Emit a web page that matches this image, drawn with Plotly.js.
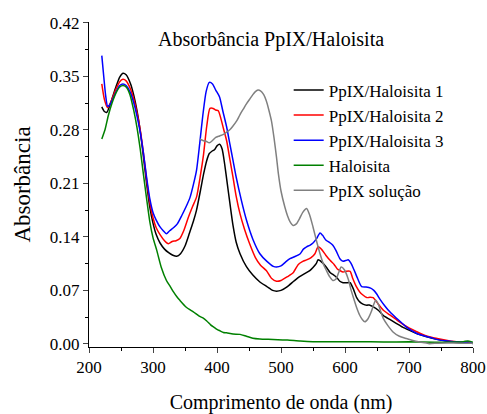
<!DOCTYPE html>
<html>
<head>
<meta charset="utf-8">
<script src="https://cdn.plot.ly/plotly-3.0.1.min.js"></script>
<style>html,body{margin:0;padding:0;background:#fff;}#chart{width:487px;height:414px;}</style>
</head>
<body>
<div id="chart"></div>
<script>
const seriesNames = ["PpIX/Haloisita 1", "PpIX/Haloisita 2", "PpIX/Haloisita 3", "Haloisita", "PpIX solução"];

const wl1 = [220,224,228,235,242,248,253,258,265,270,275,280,285,290,295,300,305,311,318,325,331,337,343,350,357,363,368,374,379,384,388,392,396,400,404,408,412,416,420,425,430,436,446,456,467,478,487,493,500,510,520,529,537,545,550,555,558,565,572,577,581,587,592,597,602,608,613,618,623,628,634,638,643,652,660,670,680,690,700,712,725,738,750,764,775,785,792,800];
const abs1 = [0.310,0.304,0.303,0.318,0.336,0.349,0.354,0.352,0.340,0.325,0.305,0.279,0.245,0.210,0.179,0.158,0.143,0.132,0.124,0.119,0.116,0.1146,0.118,0.128,0.145,0.160,0.175,0.200,0.222,0.240,0.249,0.252,0.254,0.259,0.261,0.255,0.235,0.210,0.185,0.155,0.133,0.118,0.101,0.090,0.081,0.075,0.070,0.069,0.070,0.075,0.082,0.088,0.092,0.096,0.100,0.105,0.110,0.106,0.099,0.093,0.091,0.087,0.082,0.080,0.080,0.080,0.072,0.061,0.055,0.052,0.0506,0.051,0.049,0.044,0.037,0.032,0.027,0.022,0.018,0.0135,0.010,0.007,0.005,0.003,0.002,0.0015,0.002,0.0005];

const wl2 = [220,224,229,235,242,248,253,258,265,270,275,280,285,290,295,300,305,311,318,324,330,336,342,348,355,362,368,374,379,384,389,394,398,402,406,410,415,420,425,430,436,443,451,460,468,477,485,493,500,510,519,527,534,540,547,553,558,564,570,577,583,588,592,597,602,608,612,618,623,628,634,639,644,652,660,670,680,690,700,712,725,738,750,764,775,785,792,800];
const abs2 = [0.340,0.320,0.309,0.318,0.333,0.343,0.346,0.344,0.333,0.320,0.302,0.280,0.250,0.215,0.185,0.165,0.152,0.143,0.135,0.131,0.134,0.135,0.138,0.148,0.165,0.180,0.192,0.220,0.248,0.285,0.308,0.308,0.306,0.305,0.295,0.282,0.266,0.242,0.218,0.193,0.170,0.150,0.131,0.113,0.103,0.096,0.086,0.082,0.083,0.088,0.093,0.104,0.108,0.110,0.113,0.118,0.127,0.123,0.116,0.109,0.104,0.098,0.096,0.094,0.095,0.095,0.086,0.0745,0.068,0.064,0.0606,0.061,0.0606,0.052,0.044,0.038,0.032,0.026,0.021,0.016,0.011,0.008,0.006,0.004,0.003,0.002,0.003,0.001];

const wl3 = [220,223,226,229,232,237,243,248,253,258,265,270,275,280,285,290,295,300,305,311,316,321,326,332,338,345,352,358,363,368,373,378,383,388,393,398,404,409,415,420,425,430,438,446,456,467,478,488,493,500,507,514,521,530,535,540,545,550,555,561,565,570,577,581,586,592,597,601,605,609,614,620,626,633,640,645,649,655,662,670,680,688,696,705,714,722,735,748,760,770,779,788,795,800];
const abs3 = [0.377,0.350,0.325,0.311,0.312,0.320,0.331,0.338,0.340,0.338,0.328,0.315,0.298,0.277,0.250,0.218,0.190,0.172,0.162,0.153,0.148,0.144,0.148,0.152,0.157,0.168,0.180,0.192,0.208,0.227,0.262,0.300,0.330,0.342,0.340,0.332,0.323,0.305,0.284,0.262,0.240,0.218,0.188,0.162,0.137,0.118,0.108,0.1015,0.1006,0.102,0.107,0.1115,0.114,0.118,0.124,0.127,0.129,0.132,0.137,0.145,0.142,0.136,0.132,0.129,0.122,0.1115,0.108,0.109,0.110,0.106,0.097,0.085,0.075,0.0745,0.073,0.070,0.066,0.058,0.050,0.042,0.034,0.028,0.022,0.017,0.013,0.011,0.008,0.005,0.004,0.003,0.0026,0.002,0.003,0.0004];

const wl4 = [220,225,230,236,242,248,253,258,264,270,275,280,285,290,295,300,306,313,321,327,332,337,342,352,363,368,373,378,384,390,395,400,405,410,415,425,436,446,456,467,480,495,510,530,550,580,620,660,700,740,770,785,792,797,800];
const abs4 = [0.268,0.280,0.298,0.315,0.328,0.336,0.338,0.336,0.326,0.305,0.283,0.255,0.222,0.190,0.160,0.139,0.122,0.100,0.083,0.075,0.068,0.062,0.057,0.048,0.042,0.039,0.036,0.034,0.030,0.025,0.022,0.019,0.017,0.015,0.0145,0.013,0.0125,0.010,0.0075,0.0065,0.006,0.0055,0.005,0.0038,0.003,0.0028,0.003,0.0025,0.0028,0.0022,0.0025,0.003,0.004,0.003,0.002];

const wl5 = [373,378,383,388,393,398,404,410,415,420,425,431,436,441,446,451,456,460,464,468,473,477,481,485,489,493,496,500,506,510,514,519,524,529,534,540,545,550,556,561,566,571,576,581,586,590,594,599,605,609,613,618,623,627,631,636,641,645,648,652,656,660,667,675,685,696,706,717,725,732,745,760,780,800];
const abs5 = [0.268,0.266,0.265,0.263,0.266,0.270,0.272,0.274,0.277,0.280,0.285,0.292,0.300,0.307,0.314,0.320,0.326,0.330,0.332,0.331,0.326,0.318,0.306,0.292,0.270,0.244,0.222,0.200,0.179,0.168,0.160,0.155,0.157,0.164,0.172,0.177,0.168,0.153,0.133,0.118,0.105,0.096,0.088,0.083,0.085,0.093,0.1006,0.097,0.085,0.072,0.061,0.048,0.0375,0.032,0.029,0.033,0.042,0.052,0.057,0.052,0.042,0.033,0.024,0.0157,0.010,0.007,0.0045,0.0026,0.0015,0.0004,0.001,0.0012,0.001,0.001];

const xTickVals = [200,300,400,500,600,700,800];
const yTickVals = [0.00,0.07,0.14,0.21,0.28,0.35,0.42];

const colors = ["#000000","#ff0000","#0000ff","#008000","#808080"];
const xs = [wl1,wl2,wl3,wl4,wl5];
const ys = [abs1,abs2,abs3,abs4,abs5];

const traces = seriesNames.map((n,i)=>({
  x: xs[i], y: ys[i], type:'scatter', mode:'lines', name:n,
  line:{color:colors[i], width:1.5, shape:'spline', smoothing:0.6}
}));

const FONT = '"Liberation Serif", "Times New Roman", serif';
const xr = [200,800], yr = [-0.004,0.421];

const layout = {
  width:487, height:414,
  margin:{l:89, r:14, t:22, b:67},
  paper_bgcolor:'#fff', plot_bgcolor:'#fff',
  font:{family:FONT, color:'#000', size:17},
  showlegend:true,
  legend:{x:0.52, y:0.845, xanchor:'left', yanchor:'top', bgcolor:'rgba(0,0,0,0)',
          font:{family:FONT, size:17, color:'#000'}, itemwidth:30, tracegroupgap:0},
  xaxis:{range:xr, tickvals:xTickVals, ticktext:xTickVals.map(String), ticks:'outside', ticklen:5, tickwidth:1,
         showline:true, linecolor:'#000', linewidth:1, showgrid:false, zeroline:false,
         minor:{ticks:'outside', ticklen:3, dtick:50, tick0:200, tickcolor:'#000', showgrid:false},
         tickfont:{family:FONT, size:17},
         title:{text:'Comprimento de onda (nm)', font:{family:FONT, size:20}, standoff:18}},
  yaxis:{range:yr, tickvals:yTickVals, ticktext:yTickVals.map(v=>v.toFixed(2)), ticks:'outside', ticklen:5, tickwidth:1,
         showline:true, linecolor:'#000', linewidth:1, showgrid:false, zeroline:false,
         minor:{ticks:'outside', ticklen:3, dtick:0.035, tick0:0, tickcolor:'#000', showgrid:false},
         tickfont:{family:FONT, size:17},
         title:{text:'Absorbância', font:{family:FONT, size:23}, standoff:12}},
  xaxis2:{range:xr, overlaying:'x', side:'top', anchor:'y', tickvals:xTickVals, showticklabels:false,
          ticks:'inside', ticklen:5, showline:true, linecolor:'#000', linewidth:1, showgrid:false, zeroline:false,
          minor:{ticks:'inside', ticklen:3, dtick:50, tick0:200, tickcolor:'#000', showgrid:false}},
  yaxis2:{range:yr, overlaying:'y', side:'right', anchor:'x', tickvals:yTickVals, showticklabels:false,
          ticks:'inside', ticklen:5, showline:true, linecolor:'#000', linewidth:1, showgrid:false, zeroline:false,
          minor:{ticks:'inside', ticklen:3, dtick:0.035, tick0:0, tickcolor:'#000', showgrid:false}},
  annotations:[{text:'Absorbância PpIX/Haloisita', xref:'paper', yref:'paper', x:0.473, y:0.945,
                xanchor:'center', yanchor:'middle', showarrow:false, font:{family:FONT, size:20, color:'#000'}}]
};

Plotly.newPlot('chart', traces, layout, {displayModeBar:false, staticPlot:true});
</script>
</body>
</html>
